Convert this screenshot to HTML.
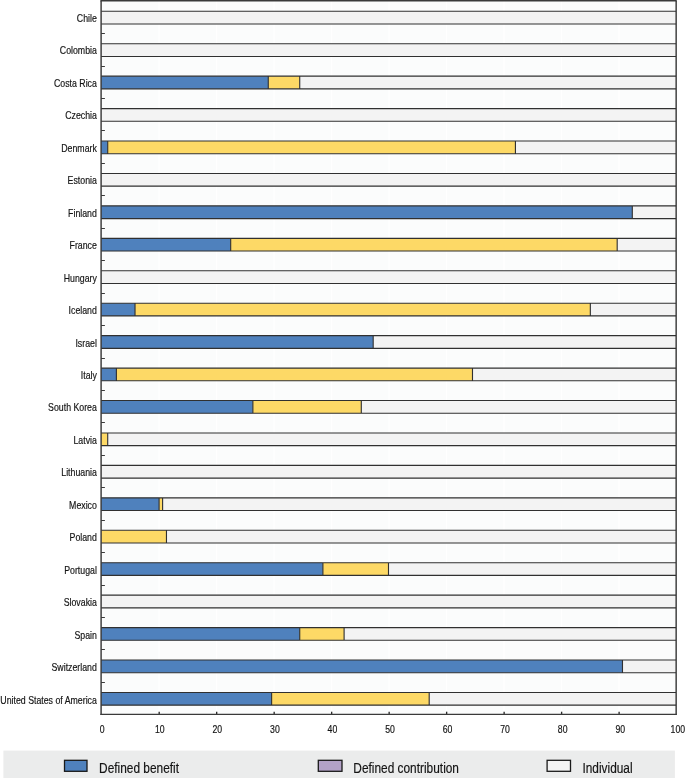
<!DOCTYPE html>
<html><head><meta charset="utf-8"><title>chart</title>
<style>html,body{margin:0;padding:0;background:#fff;}svg{display:block;will-change:transform;}text{font-family:"Liberation Sans",sans-serif;stroke:#141414;stroke-width:0.18px;}</style></head>
<body>
<svg width="685" height="778" viewBox="0 0 685 778">
<rect x="0" y="0" width="685" height="778" fill="#ffffff"/>
<rect x="101.10" y="0.75" width="574.90" height="713.65" fill="#fbfcfc"/>
<line x1="159.09" y1="0.75" x2="159.09" y2="714.40" stroke="#ffffff" stroke-width="1.3"/>
<line x1="216.58" y1="0.75" x2="216.58" y2="714.40" stroke="#ffffff" stroke-width="1.3"/>
<line x1="274.07" y1="0.75" x2="274.07" y2="714.40" stroke="#ffffff" stroke-width="1.3"/>
<line x1="331.56" y1="0.75" x2="331.56" y2="714.40" stroke="#ffffff" stroke-width="1.3"/>
<line x1="389.05" y1="0.75" x2="389.05" y2="714.40" stroke="#ffffff" stroke-width="1.3"/>
<line x1="446.54" y1="0.75" x2="446.54" y2="714.40" stroke="#ffffff" stroke-width="1.3"/>
<line x1="504.03" y1="0.75" x2="504.03" y2="714.40" stroke="#ffffff" stroke-width="1.3"/>
<line x1="561.52" y1="0.75" x2="561.52" y2="714.40" stroke="#ffffff" stroke-width="1.3"/>
<line x1="619.01" y1="0.75" x2="619.01" y2="714.40" stroke="#ffffff" stroke-width="1.3"/>
<rect x="101.10" y="11.30" width="574.90" height="12.70" fill="#f3f3f3"/>
<path d="M101.10 11.30H676.00M101.10 24.00H676.00" fill="none" stroke="#303030" stroke-width="1.12"/>
<text transform="translate(96.85,21.95) scale(0.828,1)" text-anchor="end" font-size="10.6" fill="#141414">Chile</text>
<rect x="101.10" y="43.74" width="574.90" height="12.70" fill="#f3f3f3"/>
<path d="M101.10 43.74H676.00M101.10 56.44H676.00" fill="none" stroke="#303030" stroke-width="1.12"/>
<text transform="translate(96.85,54.41) scale(0.828,1)" text-anchor="end" font-size="10.6" fill="#141414">Colombia</text>
<rect x="101.10" y="76.17" width="167.18" height="12.70" fill="#4f81bd"/>
<rect x="268.28" y="76.17" width="31.45" height="12.70" fill="#fdd966"/>
<rect x="299.73" y="76.17" width="376.27" height="12.70" fill="#f3f3f3"/>
<path d="M101.10 76.17H676.00M101.10 88.87H676.00M268.28 76.17V88.87M299.73 76.17V88.87" fill="none" stroke="#303030" stroke-width="1.12"/>
<text transform="translate(96.85,86.87) scale(0.828,1)" text-anchor="end" font-size="10.6" fill="#141414">Costa Rica</text>
<rect x="101.10" y="108.61" width="574.90" height="12.70" fill="#f3f3f3"/>
<path d="M101.10 108.61H676.00M101.10 121.31H676.00" fill="none" stroke="#303030" stroke-width="1.12"/>
<text transform="translate(96.85,119.34) scale(0.828,1)" text-anchor="end" font-size="10.6" fill="#141414">Czechia</text>
<rect x="101.10" y="141.04" width="6.61" height="12.70" fill="#4f81bd"/>
<rect x="107.71" y="141.04" width="407.72" height="12.70" fill="#fdd966"/>
<rect x="515.43" y="141.04" width="160.57" height="12.70" fill="#f3f3f3"/>
<path d="M101.10 141.04H676.00M101.10 153.74H676.00M107.71 141.04V153.74M515.43 141.04V153.74" fill="none" stroke="#303030" stroke-width="1.12"/>
<text transform="translate(96.85,151.80) scale(0.828,1)" text-anchor="end" font-size="10.6" fill="#141414">Denmark</text>
<rect x="101.10" y="173.48" width="574.90" height="12.70" fill="#f3f3f3"/>
<path d="M101.10 173.48H676.00M101.10 186.18H676.00" fill="none" stroke="#303030" stroke-width="1.12"/>
<text transform="translate(96.85,184.26) scale(0.828,1)" text-anchor="end" font-size="10.6" fill="#141414">Estonia</text>
<rect x="101.10" y="205.92" width="531.21" height="12.70" fill="#4f81bd"/>
<rect x="632.31" y="205.92" width="43.69" height="12.70" fill="#f3f3f3"/>
<path d="M101.10 205.92H676.00M101.10 218.62H676.00M632.31 205.92V218.62" fill="none" stroke="#303030" stroke-width="1.12"/>
<text transform="translate(96.85,216.72) scale(0.828,1)" text-anchor="end" font-size="10.6" fill="#141414">Finland</text>
<rect x="101.10" y="238.35" width="129.58" height="12.70" fill="#4f81bd"/>
<rect x="230.68" y="238.35" width="386.51" height="12.70" fill="#fdd966"/>
<rect x="617.19" y="238.35" width="58.81" height="12.70" fill="#f3f3f3"/>
<path d="M101.10 238.35H676.00M101.10 251.05H676.00M230.68 238.35V251.05M617.19 238.35V251.05" fill="none" stroke="#303030" stroke-width="1.12"/>
<text transform="translate(96.85,249.18) scale(0.828,1)" text-anchor="end" font-size="10.6" fill="#141414">France</text>
<rect x="101.10" y="270.79" width="574.90" height="12.70" fill="#f3f3f3"/>
<path d="M101.10 270.79H676.00M101.10 283.49H676.00" fill="none" stroke="#303030" stroke-width="1.12"/>
<text transform="translate(96.85,281.65) scale(0.828,1)" text-anchor="end" font-size="10.6" fill="#141414">Hungary</text>
<rect x="101.10" y="303.22" width="33.92" height="12.70" fill="#4f81bd"/>
<rect x="135.02" y="303.22" width="455.32" height="12.70" fill="#fdd966"/>
<rect x="590.34" y="303.22" width="85.66" height="12.70" fill="#f3f3f3"/>
<path d="M101.10 303.22H676.00M101.10 315.92H676.00M135.02 303.22V315.92M590.34 303.22V315.92" fill="none" stroke="#303030" stroke-width="1.12"/>
<text transform="translate(96.85,314.11) scale(0.828,1)" text-anchor="end" font-size="10.6" fill="#141414">Iceland</text>
<rect x="101.10" y="335.66" width="272.10" height="12.70" fill="#4f81bd"/>
<rect x="373.20" y="335.66" width="302.80" height="12.70" fill="#f3f3f3"/>
<path d="M101.10 335.66H676.00M101.10 348.36H676.00M373.20 335.66V348.36" fill="none" stroke="#303030" stroke-width="1.12"/>
<text transform="translate(96.85,346.57) scale(0.828,1)" text-anchor="end" font-size="10.6" fill="#141414">Israel</text>
<rect x="101.10" y="368.10" width="15.29" height="12.70" fill="#4f81bd"/>
<rect x="116.39" y="368.10" width="356.09" height="12.70" fill="#fdd966"/>
<rect x="472.49" y="368.10" width="203.51" height="12.70" fill="#f3f3f3"/>
<path d="M101.10 368.10H676.00M101.10 380.80H676.00M116.39 368.10V380.80M472.49 368.10V380.80" fill="none" stroke="#303030" stroke-width="1.12"/>
<text transform="translate(96.85,379.03) scale(0.828,1)" text-anchor="end" font-size="10.6" fill="#141414">Italy</text>
<rect x="101.10" y="400.53" width="151.77" height="12.70" fill="#4f81bd"/>
<rect x="252.87" y="400.53" width="108.43" height="12.70" fill="#fdd966"/>
<rect x="361.30" y="400.53" width="314.70" height="12.70" fill="#f3f3f3"/>
<path d="M101.10 400.53H676.00M101.10 413.23H676.00M252.87 400.53V413.23M361.30 400.53V413.23" fill="none" stroke="#303030" stroke-width="1.12"/>
<text transform="translate(96.85,411.49) scale(0.828,1)" text-anchor="end" font-size="10.6" fill="#141414">South Korea</text>
<rect x="101.10" y="432.97" width="6.61" height="12.70" fill="#fdd966"/>
<rect x="107.71" y="432.97" width="568.29" height="12.70" fill="#f3f3f3"/>
<path d="M101.10 432.97H676.00M101.10 445.67H676.00M107.71 432.97V445.67" fill="none" stroke="#303030" stroke-width="1.12"/>
<text transform="translate(96.85,443.96) scale(0.828,1)" text-anchor="end" font-size="10.6" fill="#141414">Latvia</text>
<rect x="101.10" y="465.40" width="574.90" height="12.70" fill="#f3f3f3"/>
<path d="M101.10 465.40H676.00M101.10 478.10H676.00" fill="none" stroke="#303030" stroke-width="1.12"/>
<text transform="translate(96.85,476.42) scale(0.828,1)" text-anchor="end" font-size="10.6" fill="#141414">Lithuania</text>
<rect x="101.10" y="497.84" width="58.01" height="12.70" fill="#4f81bd"/>
<rect x="159.11" y="497.84" width="3.51" height="12.70" fill="#fdd966"/>
<rect x="162.61" y="497.84" width="513.39" height="12.70" fill="#f3f3f3"/>
<path d="M101.10 497.84H676.00M101.10 510.54H676.00M159.11 497.84V510.54M162.61 497.84V510.54" fill="none" stroke="#303030" stroke-width="1.12"/>
<text transform="translate(96.85,508.88) scale(0.828,1)" text-anchor="end" font-size="10.6" fill="#141414">Mexico</text>
<rect x="101.10" y="530.28" width="65.37" height="12.70" fill="#fdd966"/>
<rect x="166.47" y="530.28" width="509.53" height="12.70" fill="#f3f3f3"/>
<path d="M101.10 530.28H676.00M101.10 542.98H676.00M166.47 530.28V542.98" fill="none" stroke="#303030" stroke-width="1.12"/>
<text transform="translate(96.85,541.34) scale(0.828,1)" text-anchor="end" font-size="10.6" fill="#141414">Poland</text>
<rect x="101.10" y="562.71" width="221.80" height="12.70" fill="#4f81bd"/>
<rect x="322.90" y="562.71" width="65.60" height="12.70" fill="#fdd966"/>
<rect x="388.49" y="562.71" width="287.51" height="12.70" fill="#f3f3f3"/>
<path d="M101.10 562.71H676.00M101.10 575.41H676.00M322.90 562.71V575.41M388.49 562.71V575.41" fill="none" stroke="#303030" stroke-width="1.12"/>
<text transform="translate(96.85,573.80) scale(0.828,1)" text-anchor="end" font-size="10.6" fill="#141414">Portugal</text>
<rect x="101.10" y="595.15" width="574.90" height="12.70" fill="#f3f3f3"/>
<path d="M101.10 595.15H676.00M101.10 607.85H676.00" fill="none" stroke="#303030" stroke-width="1.12"/>
<text transform="translate(96.85,606.27) scale(0.828,1)" text-anchor="end" font-size="10.6" fill="#141414">Slovakia</text>
<rect x="101.10" y="627.58" width="198.63" height="12.70" fill="#4f81bd"/>
<rect x="299.73" y="627.58" width="44.38" height="12.70" fill="#fdd966"/>
<rect x="344.11" y="627.58" width="331.89" height="12.70" fill="#f3f3f3"/>
<path d="M101.10 627.58H676.00M101.10 640.28H676.00M299.73 627.58V640.28M344.11 627.58V640.28" fill="none" stroke="#303030" stroke-width="1.12"/>
<text transform="translate(96.85,638.73) scale(0.828,1)" text-anchor="end" font-size="10.6" fill="#141414">Spain</text>
<rect x="101.10" y="660.02" width="521.38" height="12.70" fill="#4f81bd"/>
<rect x="622.48" y="660.02" width="53.52" height="12.70" fill="#f3f3f3"/>
<path d="M101.10 660.02H676.00M101.10 672.72H676.00M622.48 660.02V672.72" fill="none" stroke="#303030" stroke-width="1.12"/>
<text transform="translate(96.85,671.19) scale(0.828,1)" text-anchor="end" font-size="10.6" fill="#141414">Switzerland</text>
<rect x="101.10" y="692.46" width="170.52" height="12.70" fill="#4f81bd"/>
<rect x="271.62" y="692.46" width="157.58" height="12.70" fill="#fdd966"/>
<rect x="429.20" y="692.46" width="246.80" height="12.70" fill="#f3f3f3"/>
<path d="M101.10 692.46H676.00M101.10 705.16H676.00M271.62 692.46V705.16M429.20 692.46V705.16" fill="none" stroke="#303030" stroke-width="1.12"/>
<text transform="translate(96.85,703.65) scale(0.828,1)" text-anchor="end" font-size="10.6" fill="#141414">United States of America</text>
<line x1="101.10" y1="33.50" x2="104.90" y2="33.50" stroke="#3a3a3a" stroke-width="1.0"/>
<line x1="101.10" y1="66.50" x2="104.90" y2="66.50" stroke="#3a3a3a" stroke-width="1.0"/>
<line x1="101.10" y1="98.50" x2="104.90" y2="98.50" stroke="#3a3a3a" stroke-width="1.0"/>
<line x1="101.10" y1="130.50" x2="104.90" y2="130.50" stroke="#3a3a3a" stroke-width="1.0"/>
<line x1="101.10" y1="163.50" x2="104.90" y2="163.50" stroke="#3a3a3a" stroke-width="1.0"/>
<line x1="101.10" y1="195.50" x2="104.90" y2="195.50" stroke="#3a3a3a" stroke-width="1.0"/>
<line x1="101.10" y1="228.50" x2="104.90" y2="228.50" stroke="#3a3a3a" stroke-width="1.0"/>
<line x1="101.10" y1="260.50" x2="104.90" y2="260.50" stroke="#3a3a3a" stroke-width="1.0"/>
<line x1="101.10" y1="293.50" x2="104.90" y2="293.50" stroke="#3a3a3a" stroke-width="1.0"/>
<line x1="101.10" y1="325.50" x2="104.90" y2="325.50" stroke="#3a3a3a" stroke-width="1.0"/>
<line x1="101.10" y1="358.50" x2="104.90" y2="358.50" stroke="#3a3a3a" stroke-width="1.0"/>
<line x1="101.10" y1="390.50" x2="104.90" y2="390.50" stroke="#3a3a3a" stroke-width="1.0"/>
<line x1="101.10" y1="422.50" x2="104.90" y2="422.50" stroke="#3a3a3a" stroke-width="1.0"/>
<line x1="101.10" y1="455.50" x2="104.90" y2="455.50" stroke="#3a3a3a" stroke-width="1.0"/>
<line x1="101.10" y1="487.50" x2="104.90" y2="487.50" stroke="#3a3a3a" stroke-width="1.0"/>
<line x1="101.10" y1="520.50" x2="104.90" y2="520.50" stroke="#3a3a3a" stroke-width="1.0"/>
<line x1="101.10" y1="552.50" x2="104.90" y2="552.50" stroke="#3a3a3a" stroke-width="1.0"/>
<line x1="101.10" y1="585.50" x2="104.90" y2="585.50" stroke="#3a3a3a" stroke-width="1.0"/>
<line x1="101.10" y1="617.50" x2="104.90" y2="617.50" stroke="#3a3a3a" stroke-width="1.0"/>
<line x1="101.10" y1="649.50" x2="104.90" y2="649.50" stroke="#3a3a3a" stroke-width="1.0"/>
<line x1="101.10" y1="682.50" x2="104.90" y2="682.50" stroke="#3a3a3a" stroke-width="1.0"/>
<line x1="159.19" y1="711.70" x2="159.19" y2="714.40" stroke="#2a2a2a" stroke-width="1.35"/>
<line x1="216.68" y1="711.70" x2="216.68" y2="714.40" stroke="#2a2a2a" stroke-width="1.35"/>
<line x1="274.17" y1="711.70" x2="274.17" y2="714.40" stroke="#2a2a2a" stroke-width="1.35"/>
<line x1="331.66" y1="711.70" x2="331.66" y2="714.40" stroke="#2a2a2a" stroke-width="1.35"/>
<line x1="389.15" y1="711.70" x2="389.15" y2="714.40" stroke="#2a2a2a" stroke-width="1.35"/>
<line x1="446.64" y1="711.70" x2="446.64" y2="714.40" stroke="#2a2a2a" stroke-width="1.35"/>
<line x1="504.13" y1="711.70" x2="504.13" y2="714.40" stroke="#2a2a2a" stroke-width="1.35"/>
<line x1="561.62" y1="711.70" x2="561.62" y2="714.40" stroke="#2a2a2a" stroke-width="1.35"/>
<line x1="619.11" y1="711.70" x2="619.11" y2="714.40" stroke="#2a2a2a" stroke-width="1.35"/>
<line x1="100.40" y1="0.75" x2="676.70" y2="0.75" stroke="#3a3a3a" stroke-width="1.4"/>
<line x1="101.10" y1="0.75" x2="101.10" y2="715.00" stroke="#3a3a3a" stroke-width="1.45"/>
<line x1="676.15" y1="0.75" x2="676.15" y2="715.00" stroke="#333333" stroke-width="1.4"/>
<line x1="100.40" y1="714.40" x2="676.70" y2="714.40" stroke="#3a3a3a" stroke-width="1.3"/>
<text transform="translate(102.20,733.0) scale(0.82,1)" text-anchor="middle" font-size="10.6" fill="#141414">0</text>
<text transform="translate(159.76,733.0) scale(0.82,1)" text-anchor="middle" font-size="10.6" fill="#141414">10</text>
<text transform="translate(217.32,733.0) scale(0.82,1)" text-anchor="middle" font-size="10.6" fill="#141414">20</text>
<text transform="translate(274.88,733.0) scale(0.82,1)" text-anchor="middle" font-size="10.6" fill="#141414">30</text>
<text transform="translate(332.44,733.0) scale(0.82,1)" text-anchor="middle" font-size="10.6" fill="#141414">40</text>
<text transform="translate(390.00,733.0) scale(0.82,1)" text-anchor="middle" font-size="10.6" fill="#141414">50</text>
<text transform="translate(447.56,733.0) scale(0.82,1)" text-anchor="middle" font-size="10.6" fill="#141414">60</text>
<text transform="translate(505.12,733.0) scale(0.82,1)" text-anchor="middle" font-size="10.6" fill="#141414">70</text>
<text transform="translate(562.68,733.0) scale(0.82,1)" text-anchor="middle" font-size="10.6" fill="#141414">80</text>
<text transform="translate(620.24,733.0) scale(0.82,1)" text-anchor="middle" font-size="10.6" fill="#141414">90</text>
<text transform="translate(677.80,733.0) scale(0.82,1)" text-anchor="middle" font-size="10.6" fill="#141414">100</text>
<rect x="3.4" y="750.6" width="671.5" height="28" fill="#ebecec"/>
<rect x="64.50" y="760.3" width="22.50" height="11.0" fill="#4f81bd" stroke="#1a1a1a" stroke-width="1.3"/>
<rect x="318.30" y="760.3" width="23.70" height="11.0" fill="#b3a2c7" stroke="#1a1a1a" stroke-width="1.3"/>
<rect x="547.10" y="760.3" width="23.40" height="11.0" fill="#f3f3f3" stroke="#1a1a1a" stroke-width="1.3"/>
<text transform="translate(99.10,772.6) scale(0.82,1)" font-size="14.5" fill="#141414">Defined benefit</text>
<text transform="translate(353.30,772.6) scale(0.82,1)" font-size="14.5" fill="#141414">Defined contribution</text>
<text transform="translate(582.40,772.6) scale(0.82,1)" font-size="14.5" fill="#141414">Individual</text>
</svg>
</body></html>
